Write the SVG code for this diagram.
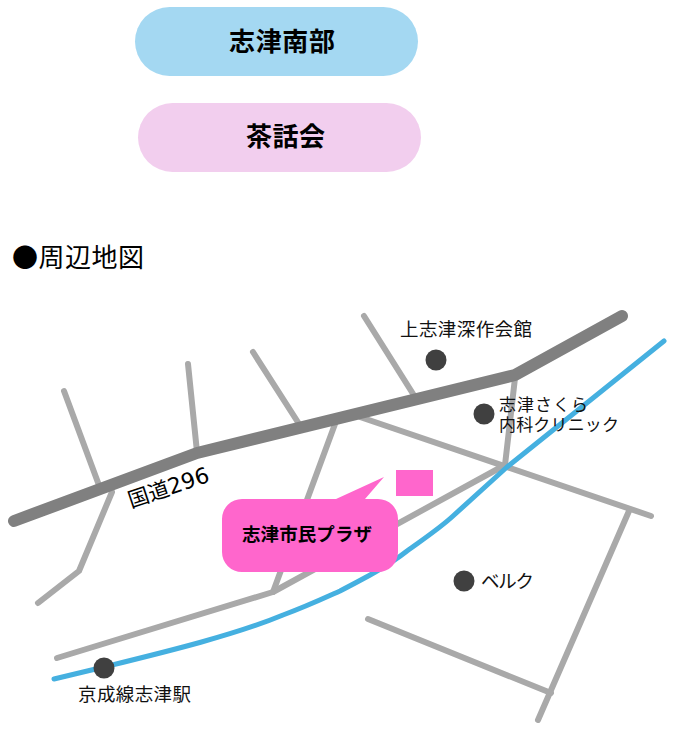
<svg xmlns="http://www.w3.org/2000/svg" width="676" height="740" viewBox="0 0 676 740">
<style>
text{font-family:"Noto Sans CJK JP","Noto Sans",sans-serif;fill:#000}
.r{fill:none;stroke:#a9a9a9;stroke-width:6;stroke-linecap:round;stroke-linejoin:round}
.d{fill:#404040}
.l{font-size:18.5px;fill:#111}
.s{font-size:17px;fill:#111}
.h{font-size:26px;font-weight:700}
</style>
<rect width="676" height="740" fill="#fff"/>
<g id="header-south"><rect x="135" y="7" width="283" height="69" rx="34.5" fill="#a4d8f2"/><text class="h" x="229" y="51" textLength="106">志津南部</text></g>
<g id="header-tea"><rect x="138" y="103" width="283" height="69" rx="34.5" fill="#f2ceee"/><text class="h" x="246" y="146" textLength="79">茶話会</text></g>
<text id="title" x="12" y="267" font-size="26" textLength="132">●周辺地図</text>
<g id="connectors">
<path class="r" d="M64 391L100 488M112 492L79 571L38 603"/>
<path class="r" d="M188 364L197 452"/>
<path class="r" d="M253 352L301 427"/>
<path class="r" d="M335 424L273 592"/>
<path class="r" d="M57 658L273 592L505 465"/>
<path class="r" d="M364 316L415 397"/>
<path class="r" d="M515 378L505 465"/>
<path class="r" d="M360 417L651 516"/>
<path class="r" d="M629 511L538 720"/>
<path class="r" d="M368 619L551 693"/>
<path d="M14 521L197 453L515 375L622 316" fill="none" stroke="#808080" stroke-width="12" stroke-linecap="round" stroke-linejoin="round"/>
<path d="M54 679L104 667C165 652 235 635 283 615C305 607 320 600 340 591C365 578 388 566 407 551C425 538 440 528 453 516L507 467L664 341" fill="none" stroke="#45b0e0" stroke-width="5" stroke-linecap="round" stroke-linejoin="round"/>
</g>
<g id="plaza-marker"><rect x="396" y="470" width="37" height="26" fill="#ff66cc"/></g>
<g id="plaza"><path d="M242 499H336L384 477L365 499H378A20 20 0 0 1 398 519V552A20 20 0 0 1 378 572H242A20 20 0 0 1 222 552V519A20 20 0 0 1 242 499Z" fill="#ff66cc"/><text x="242" y="541" font-size="18.5" font-weight="700" textLength="130">志津市民プラザ</text></g>
<g id="hall"><circle class="d" cx="436" cy="360" r="10.5"/><text class="l" x="400" y="336" textLength="132">上志津深作会館</text></g>
<g id="clinic"><circle class="d" cx="484" cy="414" r="10.5"/><text class="s" x="499" y="411" textLength="89">志津さくら</text><text class="s" x="499" y="431" textLength="120">内科クリニック</text></g>
<g id="beruku"><circle class="d" cx="464" cy="581" r="10.5"/><text class="l" x="481" y="588" textLength="53">ベルク</text></g>
<g id="station"><circle class="d" cx="104" cy="668" r="10.5"/><text class="l" x="78" y="701" textLength="113">京成線志津駅</text></g>
<text id="route" transform="translate(131 508) rotate(-18.5)" font-size="21">国道<tspan font-family="DejaVu Sans" font-size="22">296</tspan></text>
</svg>
